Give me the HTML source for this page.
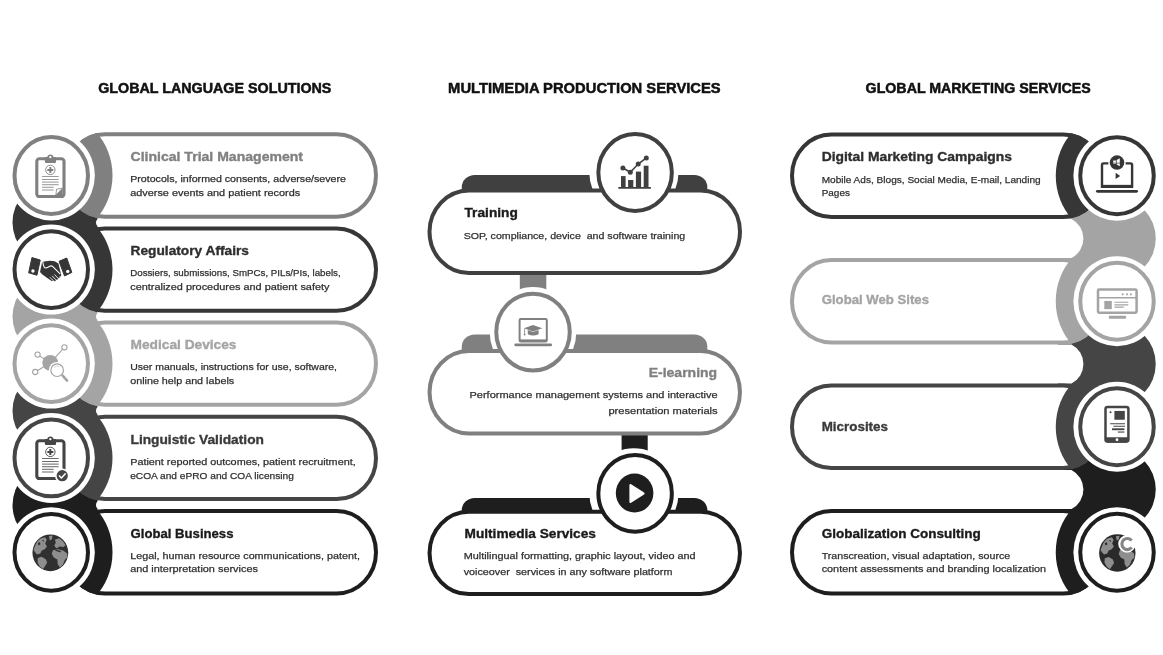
<!DOCTYPE html>
<html><head><meta charset="utf-8"><title>Services</title>
<style>
html,body{margin:0;padding:0;background:#fff;}
body{width:1163px;height:655px;overflow:hidden;font-family:"Liberation Sans",sans-serif;}
svg{display:block;will-change:transform;filter:blur(0.45px);}
text{font-family:"Liberation Sans",sans-serif;white-space:pre;}
</style></head><body>
<svg width="1163" height="655" viewBox="0 0 1163 655">
<defs>
<clipPath id="Lc0"><path d="M104.90,132.30 L336.60,132.30 A41.40 43.20 0 0 1 336.60,218.70 L104.90,218.70 A41.40 43.20 0 0 1 104.90,132.30 Z"/></clipPath>
<clipPath id="Lc1"><path d="M104.90,226.40 L336.60,226.40 A41.40 43.20 0 0 1 336.60,312.80 L104.90,312.80 A41.40 43.20 0 0 1 104.90,226.40 Z"/></clipPath>
<clipPath id="Lc2"><path d="M104.90,320.40 L336.60,320.40 A41.40 43.20 0 0 1 336.60,406.80 L104.90,406.80 A41.40 43.20 0 0 1 104.90,320.40 Z"/></clipPath>
<clipPath id="Lc3"><path d="M104.90,414.70 L336.60,414.70 A41.40 43.20 0 0 1 336.60,501.10 L104.90,501.10 A41.40 43.20 0 0 1 104.90,414.70 Z"/></clipPath>
<clipPath id="Lc4"><path d="M104.90,509.10 L336.60,509.10 A41.40 43.20 0 0 1 336.60,595.50 L104.90,595.50 A41.40 43.20 0 0 1 104.90,509.10 Z"/></clipPath>
<clipPath id="Rc0"><path d="M831.40,132.55 L1063.35,132.55 A41.40 43.20 0 0 1 1063.35,218.95 L831.40,218.95 A41.40 43.20 0 0 1 831.40,132.55 Z"/></clipPath>
<clipPath id="Rc1"><path d="M831.40,258.05 L1063.35,258.05 A41.40 43.20 0 0 1 1063.35,344.45 L831.40,344.45 A41.40 43.20 0 0 1 831.40,258.05 Z"/></clipPath>
<clipPath id="Rc2"><path d="M831.40,383.55 L1063.35,383.55 A41.40 43.20 0 0 1 1063.35,469.95 L831.40,469.95 A41.40 43.20 0 0 1 831.40,383.55 Z"/></clipPath>
<clipPath id="Rc3"><path d="M831.40,509.05 L1063.35,509.05 A41.40 43.20 0 0 1 1063.35,595.45 L831.40,595.45 A41.40 43.20 0 0 1 831.40,509.05 Z"/></clipPath>
</defs>
<rect width="1163" height="655" fill="#fff"/>
<text x="98.2" y="93.3" font-size="14.4" font-weight="bold" fill="#111" stroke="#111" stroke-width="0.5" text-anchor="start" textLength="233.2" lengthAdjust="spacingAndGlyphs">GLOBAL LANGUAGE SOLUTIONS</text>
<text x="448.1" y="93.3" font-size="14.4" font-weight="bold" fill="#111" stroke="#111" stroke-width="0.5" text-anchor="start" textLength="272.6" lengthAdjust="spacingAndGlyphs">MULTIMEDIA PRODUCTION SERVICES</text>
<text x="865.6" y="93.3" font-size="14.4" font-weight="bold" fill="#111" stroke="#111" stroke-width="0.5" text-anchor="start" textLength="225.2" lengthAdjust="spacingAndGlyphs">GLOBAL MARKETING SERVICES</text>
<ellipse cx="51.25" cy="222.55" rx="38.75" ry="40.4" fill="#363636"/>
<rect x="51.25" y="175.50" width="46.25" height="94.10" fill="#363636"/>
<path d="M420,218.70 L99.85,218.70 A3.85 3.85 0 0 0 99.85,226.40 L420,226.40 Z" fill="#fff"/>
<ellipse cx="51.25" cy="316.60" rx="38.75" ry="40.4" fill="#a4a4a4"/>
<rect x="51.25" y="269.60" width="46.25" height="94.00" fill="#a4a4a4"/>
<path d="M420,312.80 L99.80,312.80 A3.80 3.80 0 0 0 99.80,320.40 L420,320.40 Z" fill="#fff"/>
<ellipse cx="51.25" cy="410.75" rx="38.75" ry="40.4" fill="#454545"/>
<rect x="51.25" y="363.60" width="46.25" height="94.30" fill="#454545"/>
<path d="M420,406.80 L99.95,406.80 A3.95 3.95 0 0 0 99.95,414.70 L420,414.70 Z" fill="#fff"/>
<ellipse cx="51.25" cy="505.10" rx="38.75" ry="40.4" fill="#1e1e1e"/>
<rect x="51.25" y="457.90" width="46.25" height="94.40" fill="#1e1e1e"/>
<path d="M420,501.10 L100.00,501.10 A4.00 4.00 0 0 0 100.00,509.10 L420,509.10 Z" fill="#fff"/>
<path d="M104.90,133.50 L336.60,133.50 A40.20 42.00 0 0 1 336.60,217.50 L104.90,217.50 A40.20 42.00 0 0 1 104.90,133.50 Z" fill="#fff"/>
<ellipse cx="51.25" cy="175.50" rx="61.25" ry="63.9" fill="#808080" clip-path="url(#Lc0)"/>
<path d="M104.90,134.30 L336.60,134.30 A39.40 41.20 0 0 1 336.60,216.70 L104.90,216.70 A39.40 41.20 0 0 1 104.90,134.30 Z" fill="none" stroke="#808080" stroke-width="4.0"/>
<path d="M104.90,227.60 L336.60,227.60 A40.20 42.00 0 0 1 336.60,311.60 L104.90,311.60 A40.20 42.00 0 0 1 104.90,227.60 Z" fill="#fff"/>
<ellipse cx="51.25" cy="269.60" rx="61.25" ry="63.9" fill="#363636" clip-path="url(#Lc1)"/>
<path d="M104.90,228.40 L336.60,228.40 A39.40 41.20 0 0 1 336.60,310.80 L104.90,310.80 A39.40 41.20 0 0 1 104.90,228.40 Z" fill="none" stroke="#363636" stroke-width="4.0"/>
<path d="M104.90,321.60 L336.60,321.60 A40.20 42.00 0 0 1 336.60,405.60 L104.90,405.60 A40.20 42.00 0 0 1 104.90,321.60 Z" fill="#fff"/>
<ellipse cx="51.25" cy="363.60" rx="61.25" ry="63.9" fill="#a4a4a4" clip-path="url(#Lc2)"/>
<path d="M104.90,322.40 L336.60,322.40 A39.40 41.20 0 0 1 336.60,404.80 L104.90,404.80 A39.40 41.20 0 0 1 104.90,322.40 Z" fill="none" stroke="#a4a4a4" stroke-width="4.0"/>
<path d="M104.90,415.90 L336.60,415.90 A40.20 42.00 0 0 1 336.60,499.90 L104.90,499.90 A40.20 42.00 0 0 1 104.90,415.90 Z" fill="#fff"/>
<ellipse cx="51.25" cy="457.90" rx="61.25" ry="63.9" fill="#454545" clip-path="url(#Lc3)"/>
<path d="M104.90,416.70 L336.60,416.70 A39.40 41.20 0 0 1 336.60,499.10 L104.90,499.10 A39.40 41.20 0 0 1 104.90,416.70 Z" fill="none" stroke="#454545" stroke-width="4.0"/>
<path d="M104.90,510.30 L336.60,510.30 A40.20 42.00 0 0 1 336.60,594.30 L104.90,594.30 A40.20 42.00 0 0 1 104.90,510.30 Z" fill="#fff"/>
<ellipse cx="51.25" cy="552.30" rx="61.25" ry="63.9" fill="#1e1e1e" clip-path="url(#Lc4)"/>
<path d="M104.90,511.10 L336.60,511.10 A39.40 41.20 0 0 1 336.60,593.50 L104.90,593.50 A39.40 41.20 0 0 1 104.90,511.10 Z" fill="none" stroke="#1e1e1e" stroke-width="4.0"/>
<ellipse cx="51.25" cy="175.50" rx="43.6" ry="45.0" fill="#fff"/>
<ellipse cx="51.25" cy="175.50" rx="36.75" ry="38.40" fill="#fff" stroke="#808080" stroke-width="4.0"/>
<g transform="translate(51.25,176.50)"><rect x="-14.45" y="-17.75" width="27.2" height="37.8" rx="2.6" fill="#fff" stroke="#808080" stroke-width="3.1"/><path d="M-6.4,-14.6 L-6.4,-18.4 Q-6.4,-19.4 -5.2,-19.4 L-4,-19.4 Q-3.6,-22 -0.9,-22 Q1.8,-22 2.2,-19.4 L3.6,-19.4 Q4.8,-19.4 4.8,-18.4 L4.8,-14.6 Q4.8,-13.6 3.6,-13.6 L-5.2,-13.6 Q-6.4,-13.6 -6.4,-14.6 Z" fill="#808080"/><circle cx="-0.9" cy="-19.3" r="1.15" fill="#fff"/><circle cx="-0.9" cy="-6.6" r="4.7" fill="#fff" stroke="#808080" stroke-width="0.9"/><path d="M-1.9,-9.6 h2 v2 h2 v2 h-2 v2 h-2 v-2 h-2 v-2 h2 z" fill="#808080"/><path d="M-9.2,0.0 H7.4" stroke="#808080" stroke-width="1.05" opacity="0.8"/><path d="M-9.2,3.0 H7.4" stroke="#808080" stroke-width="1.05" opacity="0.8"/><path d="M-9.2,5.6 H7.4" stroke="#808080" stroke-width="1.05" opacity="0.8"/><path d="M-9.2,8.2 H7.4" stroke="#808080" stroke-width="1.05" opacity="0.8"/><path d="M-9.2,10.8 H2.4" stroke="#808080" stroke-width="1.05" opacity="0.8"/><path d="M-9.2,13.5 H2.4" stroke="#808080" stroke-width="1.05" opacity="0.8"/><path d="M4.6,18.6 L11.3,11.8 L11.3,18.6 Z" fill="#808080"/><path d="M4.6,18.6 L5.4,12.6 L11.3,11.8 Z" fill="#fff" stroke="#808080" stroke-width="0.8" stroke-linejoin="round"/></g>
<ellipse cx="51.25" cy="269.60" rx="43.6" ry="45.0" fill="#fff"/>
<ellipse cx="51.25" cy="269.60" rx="36.75" ry="38.40" fill="#fff" stroke="#363636" stroke-width="4.0"/>
<g transform="translate(51.25,269.60)"><path d="M-19.3,-12 L-11,-9.6 L-14.3,5.6 L-22.6,3.2 Z" fill="#363636" stroke="#363636" stroke-width="1" stroke-linejoin="round"/><circle cx="-18.3" cy="1.4" r="1.7" fill="#fff"/><path d="M7.8,-8.3 L15.5,-11.6 L20.6,2.8 L13.3,6.4 Z" fill="#363636" stroke="#363636" stroke-width="1" stroke-linejoin="round"/><circle cx="16.5" cy="1.8" r="1.7" fill="#fff"/><path d="M-9.2,-7.6 L-5.5,-8.4 L-1.4,-8.9 L3.4,-8.4 L7.2,-6.2 L10,5.6 L9.6,6.8 L8.4,6.6 L8.2,8.4 L6.8,8.6 L6.2,10.2 L4.8,10.2 L4,11.6 L2.4,11.4 L0.4,11.4 L-4.4,8.2 L-9.2,4.6 L-11.2,2.4 Z" fill="#363636"/><path d="M-8.4,-7.4 Q-7.6,-1.2 -5.2,-1.6 Q-3.2,-2.2 -1.6,-3.4 Q0,-4.2 1.6,-3 L8.6,4" fill="none" stroke="#fff" stroke-width="1.1" stroke-linecap="round"/><path d="M3.4,5.2 L6.6,8.4 M1.2,6.6 L4.4,9.9 M-1,8 L2.2,11.2" fill="none" stroke="#fff" stroke-width="0.9" stroke-linecap="round"/></g>
<ellipse cx="51.25" cy="363.60" rx="43.6" ry="45.0" fill="#fff"/>
<ellipse cx="51.25" cy="363.60" rx="36.75" ry="38.40" fill="#fff" stroke="#a4a4a4" stroke-width="4.0"/>
<g transform="translate(51.25,363.60)"><path d="M-1,-0.8 L-13.7,-9 M-1,-0.8 L13.2,-16.3 M-1,-0.8 L-16,8.4" stroke="#a4a4a4" stroke-width="1.1" fill="none"/><circle cx="-1" cy="-0.8" r="7.9" fill="#a4a4a4"/><circle cx="-13.7" cy="-9.0" r="2.6" fill="#fff" stroke="#a4a4a4" stroke-width="1.1"/><circle cx="13.2" cy="-16.3" r="2.6" fill="#fff" stroke="#a4a4a4" stroke-width="1.1"/><circle cx="-16.0" cy="8.4" r="2.6" fill="#fff" stroke="#a4a4a4" stroke-width="1.1"/><circle cx="5.9" cy="6.6" r="8.3" fill="#fff"/><path d="M10.8,11.2 L16,17.2" stroke="#fff" stroke-width="4.6" stroke-linecap="round"/><circle cx="5.9" cy="6.6" r="6.3" fill="#fff" stroke="#a4a4a4" stroke-width="1.2"/><path d="M2.6,4 Q5,1.6 8.6,3" fill="none" stroke="#a4a4a4" stroke-width="0.6" opacity="0.7"/><path d="M11.4,12 L15.8,17" stroke="#a4a4a4" stroke-width="2.6" stroke-linecap="round"/></g>
<ellipse cx="51.25" cy="457.90" rx="43.6" ry="45.0" fill="#fff"/>
<ellipse cx="51.25" cy="457.90" rx="36.75" ry="38.40" fill="#fff" stroke="#454545" stroke-width="4.0"/>
<g transform="translate(51.25,458.50)"><rect x="-14.45" y="-17.75" width="27.2" height="37.8" rx="2.6" fill="#fff" stroke="#454545" stroke-width="3.1"/><path d="M-6.4,-14.6 L-6.4,-18.4 Q-6.4,-19.4 -5.2,-19.4 L-4,-19.4 Q-3.6,-22 -0.9,-22 Q1.8,-22 2.2,-19.4 L3.6,-19.4 Q4.8,-19.4 4.8,-18.4 L4.8,-14.6 Q4.8,-13.6 3.6,-13.6 L-5.2,-13.6 Q-6.4,-13.6 -6.4,-14.6 Z" fill="#454545"/><circle cx="-0.9" cy="-19.3" r="1.15" fill="#fff"/><circle cx="-0.9" cy="-6.6" r="4.7" fill="#fff" stroke="#454545" stroke-width="0.9"/><path d="M-1.9,-9.6 h2 v2 h2 v2 h-2 v2 h-2 v-2 h-2 v-2 h2 z" fill="#454545"/><path d="M-9.2,0.0 H7.4" stroke="#454545" stroke-width="1.05" opacity="0.8"/><path d="M-9.2,3.0 H7.4" stroke="#454545" stroke-width="1.05" opacity="0.8"/><path d="M-9.2,5.6 H7.4" stroke="#454545" stroke-width="1.05" opacity="0.8"/><path d="M-9.2,8.2 H7.4" stroke="#454545" stroke-width="1.05" opacity="0.8"/><path d="M-9.2,10.8 H2.4" stroke="#454545" stroke-width="1.05" opacity="0.8"/><path d="M-9.2,13.5 H2.4" stroke="#454545" stroke-width="1.05" opacity="0.8"/><circle cx="11" cy="17.2" r="7.2" fill="#fff"/><circle cx="11" cy="17.2" r="5.6" fill="#454545"/><path d="M8.2,17.4 L10.2,19.5 L14,15.2" fill="none" stroke="#fff" stroke-width="1.5" stroke-linecap="round" stroke-linejoin="round"/></g>
<ellipse cx="51.25" cy="552.30" rx="43.6" ry="45.0" fill="#fff"/>
<ellipse cx="51.25" cy="552.30" rx="36.75" ry="38.40" fill="#fff" stroke="#1e1e1e" stroke-width="4.0"/>
<g transform="translate(50.35,552.80)"><ellipse cx="0" cy="0" rx="17.9" ry="18.4" fill="#303030"/><g fill="#8e8e8e"><path d="M-15.6,-6 Q-14,-11.5 -9.6,-14.4 L-5.4,-15.6 L-3.6,-13 L-5.2,-9.4 L-3.4,-6.4 L-5.6,-3.6 L-8.6,-2.4 L-10,0.6 L-13.2,1.6 L-15.6,-1 L-16.8,-3.2 Z"/><path d="M-1.4,-16.8 L2.2,-17.2 L1.6,-13.6 L-0.6,-12.4 Z"/><path d="M-12.6,5.2 L-8.6,4 L-4.4,6.6 L-3.2,10 L-5.6,13.6 L-7.4,16.2 L-10.6,13.6 L-12.8,9.6 Z"/><path d="M4.6,-13.4 L9,-14.6 L12.8,-11.4 L15.2,-7.6 L13.2,-5.8 L9.4,-6.2 L6.2,-4.6 L3.8,-7 L5.4,-10 Z"/><path d="M2.6,-2.6 L7.4,-3.6 L12.6,-2.4 L16.6,0.4 L17.2,4.2 L14.4,7.2 L12.6,11.8 L9.6,14.6 L7.4,11.4 L7,6.6 L3.4,4.6 L1.4,1 Z"/></g><path d="M5.2,-3.4 L10.6,-1.8 L10.2,-0.4 L5,-2 Z" fill="#303030"/><path d="M-12.6,-9.6 L-10.6,-10.8 L-9.8,-8.6 L-11.8,-7.4 Z M-8.2,-12.6 L-6.6,-13 L-6.8,-10.8 Z" fill="#303030"/></g>
<text x="130.5" y="161.2" font-size="13" font-weight="bold" fill="#808080" stroke="#808080" stroke-width="0.35" text-anchor="start" textLength="172.5" lengthAdjust="spacingAndGlyphs">Clinical Trial Management</text>
<text x="130.2" y="182.2" font-size="9.6" font-weight="normal" fill="#303030" stroke="#303030" stroke-width="0.25" text-anchor="start" textLength="215.8" lengthAdjust="spacingAndGlyphs">Protocols, informed consents, adverse/severe</text>
<text x="130.2" y="196.4" font-size="9.6" font-weight="normal" fill="#303030" stroke="#303030" stroke-width="0.25" text-anchor="start" textLength="170.0" lengthAdjust="spacingAndGlyphs">adverse events and patient records</text>
<text x="130.5" y="255.4" font-size="13" font-weight="bold" fill="#2e2e2e" stroke="#2e2e2e" stroke-width="0.35" text-anchor="start" textLength="118.5" lengthAdjust="spacingAndGlyphs">Regulatory Affairs</text>
<text x="130.2" y="276.4" font-size="9.6" font-weight="normal" fill="#303030" stroke="#303030" stroke-width="0.25" text-anchor="start" textLength="210.5" lengthAdjust="spacingAndGlyphs">Dossiers, submissions, SmPCs, PILs/PIs, labels,</text>
<text x="130.2" y="290.1" font-size="9.6" font-weight="normal" fill="#303030" stroke="#303030" stroke-width="0.25" text-anchor="start" textLength="199.3" lengthAdjust="spacingAndGlyphs">centralized procedures and patient safety</text>
<text x="130.5" y="349.1" font-size="13" font-weight="bold" fill="#a4a4a4" stroke="#a4a4a4" stroke-width="0.35" text-anchor="start" textLength="106.0" lengthAdjust="spacingAndGlyphs">Medical Devices</text>
<text x="130.2" y="370.4" font-size="9.6" font-weight="normal" fill="#303030" stroke="#303030" stroke-width="0.25" text-anchor="start" textLength="206.8" lengthAdjust="spacingAndGlyphs">User manuals, instructions for use, software,</text>
<text x="130.2" y="383.8" font-size="9.6" font-weight="normal" fill="#303030" stroke="#303030" stroke-width="0.25" text-anchor="start" textLength="104.0" lengthAdjust="spacingAndGlyphs">online help and labels</text>
<text x="130.5" y="443.6" font-size="13" font-weight="bold" fill="#3a3a3a" stroke="#3a3a3a" stroke-width="0.35" text-anchor="start" textLength="133.4" lengthAdjust="spacingAndGlyphs">Linguistic Validation</text>
<text x="130.2" y="464.9" font-size="9.6" font-weight="normal" fill="#303030" stroke="#303030" stroke-width="0.25" text-anchor="start" textLength="225.5" lengthAdjust="spacingAndGlyphs">Patient reported outcomes, patient recruitment,</text>
<text x="130.2" y="478.6" font-size="9.6" font-weight="normal" fill="#303030" stroke="#303030" stroke-width="0.25" text-anchor="start" textLength="163.6" lengthAdjust="spacingAndGlyphs">eCOA and ePRO and COA licensing</text>
<text x="130.5" y="537.6" font-size="13" font-weight="bold" fill="#1a1a1a" stroke="#1a1a1a" stroke-width="0.35" text-anchor="start" textLength="103.0" lengthAdjust="spacingAndGlyphs">Global Business</text>
<text x="130.2" y="559.0" font-size="9.6" font-weight="normal" fill="#303030" stroke="#303030" stroke-width="0.25" text-anchor="start" textLength="229.7" lengthAdjust="spacingAndGlyphs">Legal, human resource communications, patent,</text>
<text x="130.2" y="572.4" font-size="9.6" font-weight="normal" fill="#303030" stroke="#303030" stroke-width="0.25" text-anchor="start" textLength="127.7" lengthAdjust="spacingAndGlyphs">and interpretation services</text>
<ellipse cx="1117.0" cy="238.50" rx="38.75" ry="40.4" fill="#a4a4a4"/>
<rect x="1058.0" y="175.75" width="59.00" height="125.50" fill="#a4a4a4"/>
<path d="M770,218.95 L1071.50,218.95 A22.00 22.00 0 0 1 1071.50,258.05 L770,258.05 Z" fill="#fff"/>
<ellipse cx="1117.0" cy="364.00" rx="38.75" ry="40.4" fill="#454545"/>
<rect x="1058.0" y="301.25" width="59.00" height="125.50" fill="#454545"/>
<path d="M770,344.45 L1071.50,344.45 A22.00 22.00 0 0 1 1071.50,383.55 L770,383.55 Z" fill="#fff"/>
<ellipse cx="1117.0" cy="489.50" rx="38.75" ry="40.4" fill="#1e1e1e"/>
<rect x="1058.0" y="426.75" width="59.00" height="125.50" fill="#1e1e1e"/>
<path d="M770,469.95 L1071.50,469.95 A22.00 22.00 0 0 1 1071.50,509.05 L770,509.05 Z" fill="#fff"/>
<path d="M831.40,133.75 L1063.35,133.75 A40.20 42.00 0 0 1 1063.35,217.75 L831.40,217.75 A40.20 42.00 0 0 1 831.40,133.75 Z" fill="#fff"/>
<ellipse cx="1117.0" cy="175.75" rx="61.25" ry="63.9" fill="#363636" clip-path="url(#Rc0)"/>
<path d="M831.40,134.55 L1063.35,134.55 A39.40 41.20 0 0 1 1063.35,216.95 L831.40,216.95 A39.40 41.20 0 0 1 831.40,134.55 Z" fill="none" stroke="#363636" stroke-width="4.0"/>
<path d="M831.40,259.25 L1063.35,259.25 A40.20 42.00 0 0 1 1063.35,343.25 L831.40,343.25 A40.20 42.00 0 0 1 831.40,259.25 Z" fill="#fff"/>
<ellipse cx="1117.0" cy="301.25" rx="61.25" ry="63.9" fill="#a4a4a4" clip-path="url(#Rc1)"/>
<path d="M831.40,260.05 L1063.35,260.05 A39.40 41.20 0 0 1 1063.35,342.45 L831.40,342.45 A39.40 41.20 0 0 1 831.40,260.05 Z" fill="none" stroke="#a4a4a4" stroke-width="4.0"/>
<path d="M831.40,384.75 L1063.35,384.75 A40.20 42.00 0 0 1 1063.35,468.75 L831.40,468.75 A40.20 42.00 0 0 1 831.40,384.75 Z" fill="#fff"/>
<ellipse cx="1117.0" cy="426.75" rx="61.25" ry="63.9" fill="#454545" clip-path="url(#Rc2)"/>
<path d="M831.40,385.55 L1063.35,385.55 A39.40 41.20 0 0 1 1063.35,467.95 L831.40,467.95 A39.40 41.20 0 0 1 831.40,385.55 Z" fill="none" stroke="#454545" stroke-width="4.0"/>
<path d="M831.40,510.25 L1063.35,510.25 A40.20 42.00 0 0 1 1063.35,594.25 L831.40,594.25 A40.20 42.00 0 0 1 831.40,510.25 Z" fill="#fff"/>
<ellipse cx="1117.0" cy="552.25" rx="61.25" ry="63.9" fill="#1e1e1e" clip-path="url(#Rc3)"/>
<path d="M831.40,511.05 L1063.35,511.05 A39.40 41.20 0 0 1 1063.35,593.45 L831.40,593.45 A39.40 41.20 0 0 1 831.40,511.05 Z" fill="none" stroke="#1e1e1e" stroke-width="4.0"/>
<ellipse cx="1117.0" cy="175.75" rx="43.6" ry="45.0" fill="#fff"/>
<ellipse cx="1117.0" cy="175.75" rx="36.75" ry="38.40" fill="#fff" stroke="#363636" stroke-width="4.0"/>
<g transform="translate(1117.00,175.75)"><path d="M-8.6,-12.4 H-13.4 Q-15,-12.4 -15,-10.8 V11 H15.1 V-10.8 Q15.1,-12.4 13.5,-12.4 H8.6" fill="none" stroke="#363636" stroke-width="2.4"/><path d="M-15,10.6 H15.1" stroke="#363636" stroke-width="3"/><path d="M-19.6,15.6 H19.6" stroke="#363636" stroke-width="2.8" stroke-linecap="round"/><circle cx="0" cy="-13.2" r="7.3" fill="#363636"/><path d="M-3.8,-15.2 L-1.2,-15.2 L2.8,-17.4 L2.8,-9.6 L-1.2,-11.8 L-3.8,-11.8 Z" fill="#fff"/><path d="M-0.6,-17 V-9.6 M-4.4,-12.6 H3.4" stroke="#363636" stroke-width="0.7"/><path d="M-1.4,-2.9 L3.2,0.2 L-1.4,3.3 Z" fill="#363636"/></g>
<ellipse cx="1117.0" cy="301.25" rx="43.6" ry="45.0" fill="#fff"/>
<ellipse cx="1117.0" cy="301.25" rx="36.75" ry="38.40" fill="#fff" stroke="#a4a4a4" stroke-width="4.0"/>
<g transform="translate(1117.00,301.25)"><rect x="-19" y="-11.7" width="38.6" height="23.1" rx="1.2" fill="#fff" stroke="#a4a4a4" stroke-width="2.5"/><path d="M-19,-3.5 H19.6" stroke="#a4a4a4" stroke-width="1.3"/><circle cx="5.7" cy="-6.9" r="1.05" fill="#a4a4a4"/><circle cx="10.0" cy="-6.9" r="1.05" fill="#a4a4a4"/><circle cx="13.9" cy="-6.9" r="1.05" fill="#a4a4a4"/><rect x="-12.7" y="-0.3" width="7.5" height="8.2" fill="#a4a4a4"/><path d="M-2.6,1 H11.3 M-2.6,3.6 H11.3 M-2.6,5.9 H6.8" stroke="#a4a4a4" stroke-width="1.2"/><rect x="-8.2" y="14.6" width="17.3" height="2.9" rx="1" fill="#a4a4a4"/></g>
<ellipse cx="1117.0" cy="426.75" rx="43.6" ry="45.0" fill="#fff"/>
<ellipse cx="1117.0" cy="426.75" rx="36.75" ry="38.40" fill="#fff" stroke="#454545" stroke-width="4.0"/>
<g transform="translate(1117.00,426.75)"><rect x="-11.5" y="-19.8" width="22.9" height="34.6" rx="2" fill="#fff" stroke="#454545" stroke-width="2.5"/><path d="M-11.5,10.4 H11.4 V13 Q11.4,16 8.9,16 H-9 Q-11.5,16 -11.5,13 Z" fill="#454545"/><circle cx="0" cy="13" r="1.4" fill="#fff"/><circle cx="-6.5" cy="-14.4" r="1" fill="#454545"/><rect x="-2.6" y="-15.8" width="10.4" height="8.8" fill="#454545"/><path d="M-6.9,-3 H8 M-3.6,-0.5 H8" stroke="#454545" stroke-width="1.1"/><path d="M-5,2.5 H7.4" stroke="#454545" stroke-width="1.9"/><path d="M0.9,5.3 H7.4" stroke="#454545" stroke-width="1.1"/></g>
<ellipse cx="1117.0" cy="552.25" rx="43.6" ry="45.0" fill="#fff"/>
<ellipse cx="1117.0" cy="552.25" rx="36.75" ry="38.40" fill="#fff" stroke="#1e1e1e" stroke-width="4.0"/>
<g transform="translate(1117.30,552.95)"><ellipse cx="0" cy="0" rx="18.2" ry="18.8" fill="#2a2a2a"/><g fill="#8e8e8e"><path d="M-15.6,-6 Q-14,-11.5 -9.6,-14.4 L-5.4,-15.6 L-3.6,-13 L-5.2,-9.4 L-3.4,-6.4 L-5.6,-3.6 L-8.6,-2.4 L-10,0.6 L-13.2,1.6 L-15.6,-1 L-16.8,-3.2 Z"/><path d="M-1.4,-16.8 L2.2,-17.2 L1.6,-13.6 L-0.6,-12.4 Z"/><path d="M-12.6,5.2 L-8.6,4 L-4.4,6.6 L-3.2,10 L-5.6,13.6 L-7.4,16.2 L-10.6,13.6 L-12.8,9.6 Z"/><path d="M4.6,-13.4 L9,-14.6 L12.8,-11.4 L15.2,-7.6 L13.2,-5.8 L9.4,-6.2 L6.2,-4.6 L3.8,-7 L5.4,-10 Z"/><path d="M2.6,-2.6 L7.4,-3.6 L12.6,-2.4 L16.6,0.4 L17.2,4.2 L14.4,7.2 L12.6,11.8 L9.6,14.6 L7.4,11.4 L7,6.6 L3.4,4.6 L1.4,1 Z"/></g><path d="M5.2,-3.4 L10.6,-1.8 L10.2,-0.4 L5,-2 Z" fill="#2a2a2a"/><path d="M-12.6,-9.6 L-10.6,-10.8 L-9.8,-8.6 L-11.8,-7.4 Z M-8.2,-12.6 L-6.6,-13 L-6.8,-10.8 Z" fill="#2a2a2a"/><circle cx="9.7" cy="-9.1" r="8.8" fill="#fff"/><path d="M14.3,-12.3 A5.4 5.6 0 1 0 14.3,-5.5" fill="none" stroke="#858585" stroke-width="3.1"/></g>
<text x="821.7" y="161.2" font-size="13" font-weight="bold" fill="#2e2e2e" stroke="#2e2e2e" stroke-width="0.35" text-anchor="start" textLength="190.3" lengthAdjust="spacingAndGlyphs">Digital Marketing Campaigns</text>
<text x="821.7" y="182.7" font-size="9.6" font-weight="normal" fill="#303030" stroke="#303030" stroke-width="0.25" text-anchor="start" textLength="219.0" lengthAdjust="spacingAndGlyphs">Mobile Ads, Blogs, Social Media, E-mail, Landing</text>
<text x="821.7" y="196.1" font-size="9.6" font-weight="normal" fill="#303030" stroke="#303030" stroke-width="0.25" text-anchor="start" textLength="28.2" lengthAdjust="spacingAndGlyphs">Pages</text>
<text x="821.7" y="304.4" font-size="13" font-weight="bold" fill="#a4a4a4" stroke="#a4a4a4" stroke-width="0.35" text-anchor="start" textLength="107.3" lengthAdjust="spacingAndGlyphs">Global Web Sites</text>
<text x="821.7" y="430.8" font-size="13" font-weight="bold" fill="#3a3a3a" stroke="#3a3a3a" stroke-width="0.35" text-anchor="start" textLength="66.3" lengthAdjust="spacingAndGlyphs">Microsites</text>
<text x="821.7" y="537.6" font-size="13" font-weight="bold" fill="#1a1a1a" stroke="#1a1a1a" stroke-width="0.35" text-anchor="start" textLength="159.1" lengthAdjust="spacingAndGlyphs">Globalization Consulting</text>
<text x="821.7" y="558.8" font-size="9.6" font-weight="normal" fill="#303030" stroke="#303030" stroke-width="0.25" text-anchor="start" textLength="188.5" lengthAdjust="spacingAndGlyphs">Transcreation, visual adaptation, source</text>
<text x="821.7" y="572.4" font-size="9.6" font-weight="normal" fill="#303030" stroke="#303030" stroke-width="0.25" text-anchor="start" textLength="224.4" lengthAdjust="spacingAndGlyphs">content assessments and branding localization</text>
<rect x="519.8" y="270" width="26.5" height="30" fill="#808080"/>
<rect x="621.6" y="430" width="26.1" height="30" fill="#1e1e1e"/>
<path d="M461.8,191.60 L461.8,187.00 A13 12 0 0 1 474.80,175.00 L694.30,175.00 A13 12 0 0 1 707.3,187.00 L707.3,191.60 Z" fill="#404040"/>
<path d="M461.8,352.10 L461.8,346.50 A13 12 0 0 1 474.80,334.50 L694.30,334.50 A13 12 0 0 1 707.3,346.50 L707.3,352.10 Z" fill="#808080"/>
<path d="M461.8,512.70 L461.8,510.00 A13 12 0 0 1 474.80,498.00 L694.30,498.00 A13 12 0 0 1 707.3,510.00 L707.3,512.70 Z" fill="#1e1e1e"/>
<ellipse cx="633.90" cy="172.5" rx="44.6" ry="45.0" fill="#fff"/>
<ellipse cx="533.0" cy="332.1" rx="43.3" ry="45.0" fill="#fff"/>
<ellipse cx="633.90" cy="493.3" rx="44.6" ry="45.0" fill="#fff"/>
<path d="M468.9,190.60 L700.6,190.60 A39.40 41.20 0 0 1 700.6,273.00 L468.9,273.00 A39.40 41.20 0 0 1 468.9,190.60 Z" fill="#fff" stroke="#404040" stroke-width="4.0"/>
<path d="M468.9,351.10 L700.6,351.10 A39.40 41.20 0 0 1 700.6,433.50 L468.9,433.50 A39.40 41.20 0 0 1 468.9,351.10 Z" fill="#fff" stroke="#808080" stroke-width="4.0"/>
<path d="M468.9,511.70 L700.6,511.70 A39.40 41.20 0 0 1 700.6,594.10 L468.9,594.10 A39.40 41.20 0 0 1 468.9,511.70 Z" fill="#fff" stroke="#1e1e1e" stroke-width="4.0"/>
<ellipse cx="635.1" cy="172.5" rx="36.75" ry="38.40" fill="#fff" stroke="#404040" stroke-width="4.0"/>
<g transform="translate(635.10,172.50)"><path d="M-16.8,15.3 H15.8" stroke="#404040" stroke-width="1.7"/><rect x="-14.1" y="3.6" width="4.6" height="11.0" fill="#404040"/><rect x="-7.0" y="7.5" width="5.2" height="7.1" fill="#404040"/><rect x="0.8" y="-0.9" width="5.2" height="15.5" fill="#404040"/><rect x="8.6" y="-6.8" width="4.8" height="21.4" fill="#404040"/><path d="M-12.2,-4.5 L-4.8,-0.3 L3.1,-8.5 L11.2,-14.6" fill="none" stroke="#404040" stroke-width="1.6"/><circle cx="-12.2" cy="-4.5" r="2.5" fill="#404040"/><circle cx="-4.8" cy="-0.3" r="2.5" fill="#404040"/><circle cx="3.1" cy="-8.5" r="2.5" fill="#404040"/><circle cx="11.2" cy="-14.6" r="2.5" fill="#404040"/></g>
<ellipse cx="533.0" cy="332.1" rx="36.75" ry="38.40" fill="#fff" stroke="#808080" stroke-width="4.0"/>
<g transform="translate(533.00,332.10)"><rect x="-13.4" y="-13.1" width="27.2" height="22.4" rx="1.2" fill="#fff" stroke="#808080" stroke-width="2"/><rect x="-18.6" y="11.5" width="37.6" height="2.6" rx="1.2" fill="#808080"/><path d="M-13.4,8.6 H13.8" stroke="#808080" stroke-width="2.6"/><path d="M0,-7.2 L9.3,-3.9 L0,-0.6 L-9,-3.9 Z" fill="#808080"/><path d="M-5.2,-2 L0,0 L5.6,-2 L5.6,2.2 Q0,4.8 -5.2,2.2 Z" fill="#808080"/><path d="M-8.4,-3.6 V1.6" stroke="#808080" stroke-width="0.8"/><circle cx="-8.4" cy="2.4" r="0.9" fill="#808080"/></g>
<ellipse cx="635.1" cy="493.3" rx="36.75" ry="38.40" fill="#fff" stroke="#1e1e1e" stroke-width="4.0"/>
<g transform="translate(635.10,493.30)"><ellipse cx="-0.5" cy="-0.3" rx="18.8" ry="19.6" fill="#1e1e1e"/><path d="M-4.6,-8.2 L8.4,0.2 L-4.6,8.6 Z" fill="#fff" stroke="#fff" stroke-width="2.2" stroke-linejoin="round"/></g>
<text x="464.5" y="217.3" font-size="13" font-weight="bold" fill="#1a1a1a" stroke="#1a1a1a" stroke-width="0.35" text-anchor="start" textLength="53.3" lengthAdjust="spacingAndGlyphs">Training</text>
<text x="463.7" y="238.8" font-size="9.6" font-weight="normal" fill="#303030" stroke="#303030" stroke-width="0.25" text-anchor="start" textLength="221.5" lengthAdjust="spacingAndGlyphs">SOP, compliance, device  and software training</text>
<text x="717.2" y="377.3" font-size="13" font-weight="bold" fill="#808080" stroke="#808080" stroke-width="0.35" text-anchor="end" textLength="68.5" lengthAdjust="spacingAndGlyphs">E-learning</text>
<text x="717.6" y="398.4" font-size="9.6" font-weight="normal" fill="#303030" stroke="#303030" stroke-width="0.25" text-anchor="end" textLength="248.1" lengthAdjust="spacingAndGlyphs">Performance management systems and interactive</text>
<text x="717.6" y="413.9" font-size="9.6" font-weight="normal" fill="#303030" stroke="#303030" stroke-width="0.25" text-anchor="end" textLength="109.2" lengthAdjust="spacingAndGlyphs">presentation materials</text>
<text x="464.5" y="537.6" font-size="13" font-weight="bold" fill="#1a1a1a" stroke="#1a1a1a" stroke-width="0.35" text-anchor="start" textLength="131.4" lengthAdjust="spacingAndGlyphs">Multimedia Services</text>
<text x="463.7" y="558.6" font-size="9.6" font-weight="normal" fill="#303030" stroke="#303030" stroke-width="0.25" text-anchor="start" textLength="231.9" lengthAdjust="spacingAndGlyphs">Multilingual formatting, graphic layout, video and</text>
<text x="463.7" y="574.6" font-size="9.6" font-weight="normal" fill="#303030" stroke="#303030" stroke-width="0.25" text-anchor="start" textLength="208.7" lengthAdjust="spacingAndGlyphs">voiceover  services in any software platform</text>
</svg>
</body></html>
